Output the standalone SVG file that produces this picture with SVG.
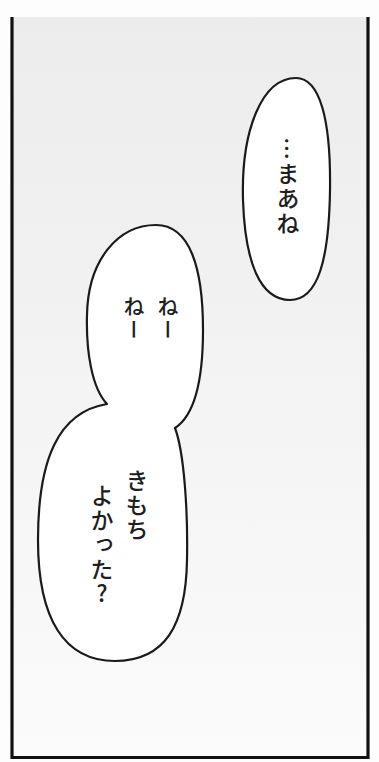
<svg xmlns="http://www.w3.org/2000/svg" width="379" height="762" viewBox="0 0 379 762">
<style>
.bubble{fill:#fff;stroke:#1a1a1a;stroke-width:2.2;stroke-linejoin:round}
.border{stroke:#111;stroke-width:3.2;fill:none}
.vt{font-family:"Noto Sans CJK JP","Noto Sans",sans-serif;fill:#1e1e1e;writing-mode:vertical-rl;font-weight:500}
</style>
<defs>
<linearGradient id="bg" x1="0" y1="0" x2="0" y2="1">
<stop offset="0" stop-color="#ececec"/>
<stop offset="0.55" stop-color="#f4f4f4"/>
<stop offset="1" stop-color="#fbfbfb"/>
</linearGradient>
</defs>
<rect width="379" height="762" fill="#fdfdfd"/>
<rect x="12" y="17" width="356" height="741" fill="url(#bg)"/>
<g id="panel-border">
<path class="border" d="M12,17 V757.5 H368 V17"/>
</g>
<g id="bubble-mane">
<path class="bubble" d="M296,78 C320,78 331,120 330,190 C329,260 318,300 290,300 C260,300 245,262 243,200 C241,130 262,78 296,78 Z"/>
<text class="vt" x="288" y="137" font-size="23" letter-spacing="2">…まあね</text>
</g>
<g id="bubble-nene">
<path class="bubble" d="M107,404 C92,388 86,352 87,315 C88,260 118,225 156,225 C190,225 203,268 203,330 C203,380 195,415 175,428 C184,452 188,510 187,560 C186,625 165,661 115,661 C65,661 38,620 38,540 C38,460 58,412 107,404 Z"/>
<text class="vt" x="168" y="296" font-size="21" letter-spacing="2">ねー</text>
<text class="vt" x="134" y="296" font-size="21" letter-spacing="2">ねー</text>
</g>
<g id="bubble-kimochi">
<text class="vt" x="137" y="469" font-size="23" letter-spacing="1.5">きもち</text>
<text class="vt" x="102" y="484" font-size="23" letter-spacing="1.5" style="text-orientation:upright">よかった?</text>
</g>
</svg>
